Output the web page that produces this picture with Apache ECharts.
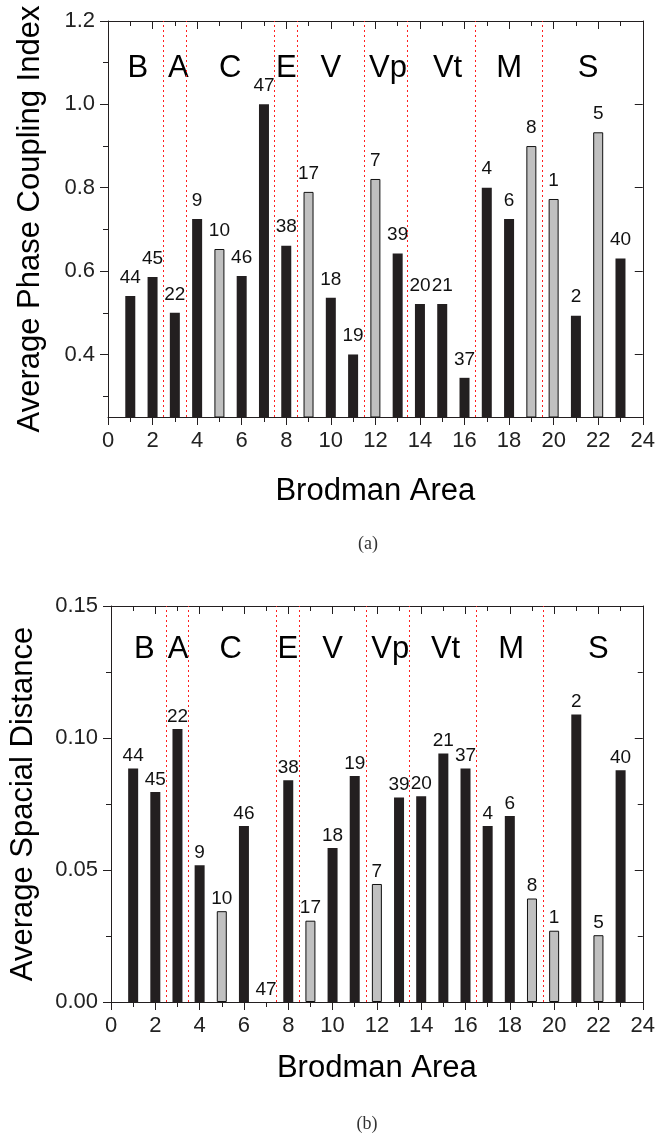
<!DOCTYPE html>
<html>
<head>
<meta charset="utf-8">
<script src="https://cdn.jsdelivr.net/npm/echarts@6/dist/echarts.min.js"></script>
<style>
html,body{margin:0;padding:0;background:#fff;}
#chart{width:658px;height:1133px;}
</style>
</head>
<body>
<div id="chart"></div>
<script>
// ---- data ----
const xPositions = [1,2,3,4,5,6,7,8,9,10,11,12,13,14,15,16,17,18,19,20,21,22,23];
const areaNumbers = [44,45,22,9,10,46,47,38,17,18,19,7,39,20,21,37,4,6,8,1,2,5,40];
const phaseCoupling = [0.54,0.586,0.50,0.725,0.653,0.588,1.0,0.661,0.79,0.536,0.40,0.821,0.642,0.521,0.521,0.344,0.80,0.725,0.90,0.773,0.493,0.933,0.630];
const spacialDistance = [0.0884,0.0795,0.1034,0.0518,0.0344,0.0667,0,0.084,0.0308,0.0583,0.0856,0.0447,0.0775,0.0779,0.0941,0.0884,0.0667,0.0705,0.0392,0.027,0.1089,0.0253,0.0878];
const grayAreas = [10,17,7,8,1,5];
const regionNames = ['B','A','C','E','V','Vp','Vt','M','S'];
const regionPosA = [1.34,3.16,5.48,8.0,10.0,12.57,15.24,18.0,21.55];
const regionPosB = [1.5,3.03,5.4,7.98,10.0,12.6,15.1,18.06,22.0];
const regionLevelA = 1.085;
const regionLevelB = 0.1335;
const dividers = [2.5,3.5,7.45,8.5,11.5,13.45,16.5,19.5];
const pciLabelTicks = [0.4,0.6,0.8,1.0,1.2];
const pciMinorTicks = [0.3,0.5,0.7,0.9,1.1];
const pciMin = 0.25, pciMax = 1.2;
const sdMin = 0, sdMax = 0.15, sdInterval = 0.05;
const xMin = 0, xMax = 24, xInterval = 2;

// ---- styles ----
const FONT = 'Liberation Sans';
const AX = '#231f20';
const BLACK = '#231f20';
const GRAY = '#c0c0c0';

const chart = echarts.init(document.getElementById('chart'), null, {renderer:'canvas'});

function barData(values){
  return xPositions.map((x,i)=>{
    const isGray = grayAreas.indexOf(areaNumbers[i]) >= 0;
    return {
      value:[x, values[i]],
      itemStyle: isGray ? {color:GRAY, borderColor:'#111', borderWidth:1} : {color:BLACK, borderColor:BLACK, borderWidth:0}
    };
  });
}
function regionData(pos, level){
  return regionNames.map((n,i)=>({name:n, value:[pos[i], level]}));
}

function xAxes(grid, nameGap){
  return [
    {gridIndex:grid, type:'value', position:'bottom', min:xMin, max:xMax, interval:xInterval,
     name:'Brodman Area', nameLocation:'middle', nameGap:nameGap,
     nameTextStyle:{fontFamily:FONT, fontSize:31, color:'#000'},
     axisLine:{show:true, onZero:false, lineStyle:{color:AX, width:1}},
     axisTick:{show:true, inside:false, length:8, lineStyle:{color:AX}},
     minorTick:{show:true, splitNumber:2, length:5, lineStyle:{color:AX}},
     axisLabel:{fontFamily:FONT, fontSize:22, color:'#222', margin:13},
     splitLine:{show:false}},
    {gridIndex:grid, type:'value', position:'top', min:xMin, max:xMax, interval:xInterval,
     axisLine:{show:true, onZero:false, lineStyle:{color:AX, width:1}},
     axisTick:{show:true, inside:true, length:8, lineStyle:{color:AX}},
     minorTick:{show:true, splitNumber:2, length:5, lineStyle:{color:AX}},
     axisLabel:{show:false}, splitLine:{show:false}}
  ];
}

function regionSeries(xIdx, yIdx, data){
  return {type:'scatter', xAxisIndex:xIdx, yAxisIndex:yIdx, symbol:'circle', symbolSize:2,
    itemStyle:{color:'rgba(255,255,255,0)'},
    data:data,
    label:{show:true, position:'inside', fontFamily:FONT, fontSize:31, color:'#000',
      textBorderWidth:0, opacity:1, formatter:p=>p.name},
    labelLayout:{hideOverlap:false},
    markLine:{silent:true, symbol:['none','none'], label:{show:false},
      lineStyle:{color:'#ff2020', type:[2,3], width:1, opacity:1},
      data:dividers.map(v=>({xAxis:v}))}};
}

const option = {
  animation:false,
  backgroundColor:'#fff',
  title:[
    {text:'(a)', left:363, top:530, textAlign:'center', textStyle:{fontFamily:'Liberation Serif', fontSize:18, fontWeight:'normal', color:'#333'}},
    {text:'(b)', left:362, top:1110, textAlign:'center', textStyle:{fontFamily:'Liberation Serif', fontSize:18, fontWeight:'normal', color:'#333'}}
  ],
  grid:[
    {left:108, top:21, width:539, height:396, containLabel:false},
    {left:108, top:606, width:539, height:396, containLabel:false}
  ],
  xAxis:[].concat(xAxes(0, 59), xAxes(1, 51)),
  yAxis:[
    {gridIndex:0, type:'value', position:'left', min:pciMin, max:pciMax,
     name:'Average Phase Coupling Index', nameLocation:'middle', nameGap:62,
     nameTextStyle:{fontFamily:FONT, fontSize:31, color:'#000'},
     axisLine:{show:true, onZero:false, lineStyle:{color:AX, width:1}},
     axisTick:{show:true, inside:false, length:8, customValues:pciLabelTicks, lineStyle:{color:AX}},
     axisLabel:{fontFamily:FONT, fontSize:22, color:'#222', margin:13, customValues:pciLabelTicks,
       formatter:v=>Number(v).toFixed(1)},
     splitLine:{show:false}},
    {gridIndex:0, type:'value', position:'left', min:pciMin, max:pciMax,
     axisLine:{show:false},
     axisTick:{show:true, inside:false, length:5, customValues:pciMinorTicks, lineStyle:{color:AX}},
     axisLabel:{show:false}, splitLine:{show:false}},
    {gridIndex:0, type:'value', position:'right', min:pciMin, max:pciMax,
     axisLine:{show:true, onZero:false, lineStyle:{color:AX, width:1}},
     axisTick:{show:true, inside:true, length:8, customValues:pciLabelTicks, lineStyle:{color:AX}},
     axisLabel:{show:false}, splitLine:{show:false}},
    {gridIndex:0, type:'value', position:'right', min:pciMin, max:pciMax,
     axisLine:{show:false},
     axisTick:{show:true, inside:true, length:5, customValues:pciMinorTicks, lineStyle:{color:AX}},
     axisLabel:{show:false}, splitLine:{show:false}},
    {gridIndex:1, type:'value', position:'left', min:sdMin, max:sdMax, interval:sdInterval,
     name:'Average Spacial Distance', nameLocation:'middle', nameGap:72,
     nameTextStyle:{fontFamily:FONT, fontSize:31, color:'#000'},
     axisLine:{show:true, onZero:false, lineStyle:{color:AX, width:1}},
     axisTick:{show:true, inside:false, length:8, lineStyle:{color:AX}},
     minorTick:{show:true, splitNumber:2, length:5, lineStyle:{color:AX}},
     axisLabel:{fontFamily:FONT, fontSize:22, color:'#222', margin:13, formatter:v=>Number(v).toFixed(2)},
     splitLine:{show:false}},
    {gridIndex:1, type:'value', position:'right', min:sdMin, max:sdMax, interval:sdInterval,
     axisLine:{show:true, onZero:false, lineStyle:{color:AX, width:1}},
     axisTick:{show:true, inside:true, length:8, lineStyle:{color:AX}},
     minorTick:{show:true, splitNumber:2, length:5, lineStyle:{color:AX}},
     axisLabel:{show:false}, splitLine:{show:false}}
  ],
  series:[
    {type:'bar', xAxisIndex:0, yAxisIndex:0, barWidth:10, clip:true,
     data:barData(phaseCoupling),
     label:{show:true, position:'top', distance:9, fontFamily:FONT, fontSize:19, color:'#111',
       formatter:p=>String(areaNumbers[p.dataIndex])}},
    regionSeries(0, 0, regionData(regionPosA, regionLevelA)),
    {type:'bar', xAxisIndex:2, yAxisIndex:4, barWidth:10, clip:true,
     data:barData(spacialDistance),
     label:{show:true, position:'top', distance:3, fontFamily:FONT, fontSize:19, color:'#111',
       formatter:p=>String(areaNumbers[p.dataIndex])}},
    regionSeries(2, 4, regionData(regionPosB, regionLevelB))
  ]
};
chart.setOption(option);
</script>
</body>
</html>
